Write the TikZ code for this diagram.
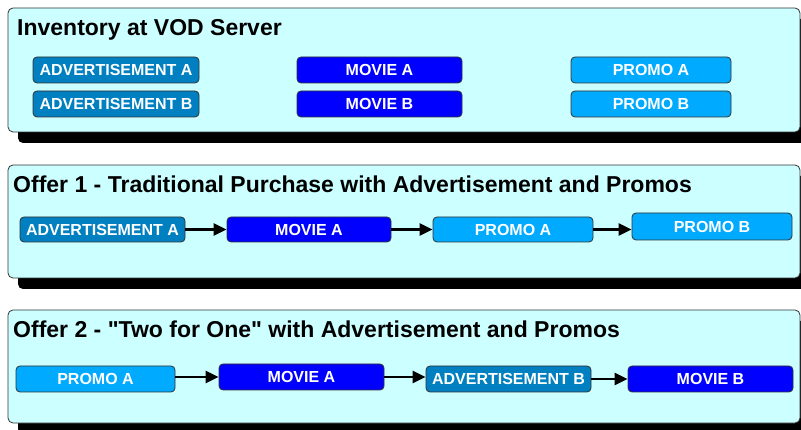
\documentclass[tikz,border=0pt]{standalone}
\usepackage{fontspec}
\setmainfont{Liberation Sans}[Ligatures=TeXOff]
\usetikzlibrary{arrows.meta,shadows}
\definecolor{panelfill}{HTML}{CCFFFF}
\definecolor{advfill}{HTML}{0080C0}
\definecolor{moviefill}{HTML}{0000FF}
\definecolor{promofill}{HTML}{00AAFF}
\begin{document}
\begin{tikzpicture}[x=1pt,y=-1pt,
  panel/.style={draw=black!80, line width=0.8pt, fill=panelfill, rounded corners=5pt,
    minimum width=792pt, inner sep=0pt,
    drop shadow={shadow xshift=10pt, shadow yshift=-11pt, fill=black, opacity=1}},
  ptitle/.style={anchor=base west, inner sep=0pt, font=\bfseries\fontsize{23}{26}\selectfont},
  item/.style={draw=black!80, line width=0.8pt, rounded corners=4pt, text=white,
    inner sep=0pt, minimum height=26pt, font=\bfseries\fontsize{16}{19}\selectfont},
  adv/.style={item, fill=advfill},
  movie/.style={item, fill=moviefill},
  promo/.style={item, fill=promofill},
  flow/.style={line width=2.8pt, -{Triangle[length=13pt,width=12pt]}}
]
\useasboundingbox (0,0) rectangle (801,430);
% panels
\node[panel, minimum height=124pt] (p1) at (404,70) {};
\node[panel, minimum height=113pt] (p2) at (404,221.5) {};
\node[panel, minimum height=113pt] (p3) at (404,366.5) {};
% titles
\node[ptitle] (t1) at (17,35.5) {Inventory at VOD Server};
\node[ptitle] (t2) at (13,192.5) {Offer 1 - Traditional Purchase with Advertisement and Promos};
\node[ptitle] (t3) at (13,338) {Offer 2 - "Two for One" with Advertisement and Promos};
% inventory
\node[adv, minimum width=166pt] (adA1) at (116,70) {ADVERTISEMENT A};
\node[adv, minimum width=166pt] (adB1) at (116,104) {ADVERTISEMENT B};
\node[movie, minimum width=165pt] (mvA1) at (379.5,70) {MOVIE A};
\node[movie, minimum width=165pt] (mvB1) at (379.5,104) {MOVIE B};
\node[promo, minimum width=160pt] (prA1) at (651,70) {PROMO A};
\node[promo, minimum width=160pt] (prB1) at (651,104) {PROMO B};
% offer 1
\node[adv, minimum width=165pt, minimum height=25pt] (adA2) at (102.5,229.5) {ADVERTISEMENT A};
\node[movie, minimum width=164pt, minimum height=25pt] (mvA2) at (309,229.5) {MOVIE A};
\node[promo, minimum width=160pt, minimum height=25pt] (prA2) at (513,229.5) {PROMO A};
\node[promo, minimum width=160pt, minimum height=27pt] (prB2) at (712,226.5) {PROMO B};
\draw[flow] (adA2.east) -- (mvA2.west);
\draw[flow] (mvA2.east) -- (prA2.west);
\draw[flow] (prA2.east) -- (prA2.east -| prB2.west);
% offer 2
\node[promo, minimum width=159pt] (prA3) at (95.5,379) {PROMO A};
\node[movie, minimum width=165pt] (mvA3) at (301.5,377) {MOVIE A};
\node[adv, minimum width=165pt] (adB3) at (508.5,379) {ADVERTISEMENT B};
\node[movie, minimum width=165pt] (mvB3) at (710.5,379) {MOVIE B};
\draw[flow] (prA3.east |- mvA3.west) -- (mvA3.west);
\draw[flow] (mvA3.east) -- (mvA3.east -| adB3.west);
\draw[flow] (adB3.east) -- (mvB3.west);
\end{tikzpicture}
\end{document}
